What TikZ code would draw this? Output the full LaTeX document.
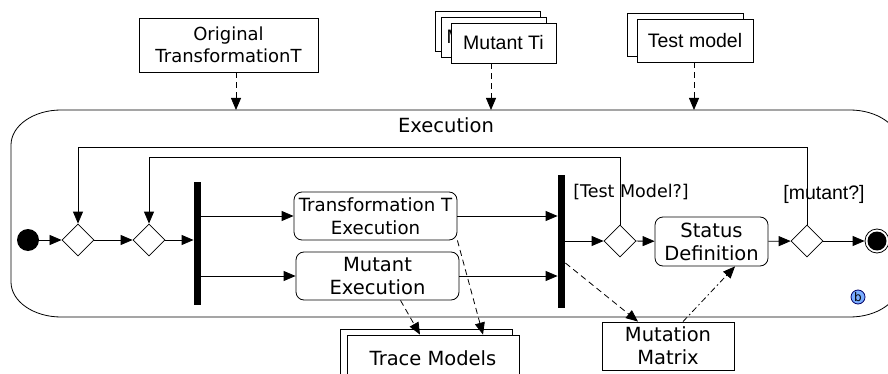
\documentclass[tikz,border=0pt]{standalone}
\usepackage{fontspec}
\setmainfont{DejaVu Sans}
\newfontfamily\arialfont{Liberation Sans}
\usetikzlibrary{arrows.meta,shapes.geometric,calc}

\tikzset{
	box/.style={draw,fill=white,inner sep=0pt,align=center},
	action/.style={box,rounded corners=8pt},
	decision/.style={diamond,draw,fill=white,minimum width=32pt,minimum height=32pt,inner sep=0pt},
	bar/.style={rectangle,fill=black,minimum width=7pt,inner sep=0pt},
	flow/.style={->},
	objflow/.style={->,dash pattern=on 6pt off 4pt},
	dotflow/.style={->,dash pattern=on 6pt off 3pt on 1.5pt off 3pt}
}

\begin{document}
\begin{tikzpicture}[x=1pt,y=-1pt,line width=0.8pt,
		>={Triangle[length=12pt,width=10pt]},
		font=\fontsize{19.5}{23}\selectfont]
	\useasboundingbox (0,0) rectangle (888,374);

	% execution frame
	\draw (61,110) -- (850,110) .. controls (877.6,110) and (900,125.7) .. (900,145)
		-- (900,282) .. controls (900,301.3) and (877.6,317) .. (850,317)
		-- (61,317) .. controls (33.4,317) and (11,301.3) .. (11,282)
		-- (11,145) .. controls (11,125.7) and (33.4,110) .. cycle;
	\node (exec) at (446,125) {Execution};
	\coordinate (in1) at (236,110);
	\coordinate (in2) at (491,110);
	\coordinate (in3) at (694,110);

	% inputs
	\node[box,minimum width=179pt,minimum height=54pt,font=\fontsize{18}{22}\selectfont] (orig) at (228.5,45) {Original\\TransformationT};
	\begin{scope}[every node/.style={box,minimum width=105pt,minimum height=40pt,font=\arialfont\fontsize{19.5}{22}\selectfont}]
		\node (mt1) at (488,31) {};
		\node[text width=95pt,align=left] (mt2) at (494,37) {Mutant Ti};
		\node (mt3) at (503.5,43) {Mutant Ti};
	\end{scope}
	\begin{scope}[every node/.style={box,minimum width=116pt,minimum height=43pt,font=\arialfont\fontsize{19.5}{22}\selectfont}]
		\node (tm1) at (685.5,34.5) {};
		\node (tm2) at (695,40.5) {Test model};
	\end{scope}

	% activity nodes
	\node[circle,fill=black,minimum size=22pt,inner sep=0pt] (start) at (28,240) {};
	\node[decision] (d1) at (78,240) {};
	\node[decision] (d2) at (149,240) {};
	\node[bar,minimum height=123pt] (fork) at (197.5,243.5) {};
	\node[action,minimum width=163pt,minimum height=48pt,font=\fontsize{18.2}{23}\selectfont] (tte) at (375.5,216) {Transformation T\\Execution};
	\node[action,minimum width=163pt,minimum height=48pt] (me) at (377.5,276) {Mutant\\Execution};
	\node[bar,minimum height=133pt] (join) at (561.5,241.5) {};
	\node[decision] (d3) at (620,241) {};
	\node[action,minimum width=113pt,minimum height=49pt] (status) at (711.5,241.5) {Status\\Definition};
	\node[decision] (d4) at (807,241) {};
	\node[circle,draw,minimum size=24pt,inner sep=0pt] (end) at (877,241) {};
	\fill (end.center) circle (9.5);
	\node[circle,draw=blue!40!black,fill=blue!40!white!80!cyan,minimum size=14pt,inner sep=0pt,
		font=\fontsize{12}{12}\selectfont] (mark) at (858,297) {b};

	% guards
	\node[font=\fontsize{17.5}{20}\selectfont] (g1) at (631,192) {[Test Model?]};
	\node[font=\arialfont\fontsize{19.5}{22}\selectfont] (g2) at (824,194) {[mutant?]};

	% outputs
	\begin{scope}[every node/.style={box,minimum width=172pt,minimum height=46pt}]
		\node (tr1) at (426.5,352) {};
		\node (tr2) at (433,358) {Trace Models};
	\end{scope}
	\node[box,minimum width=132pt,minimum height=48pt] (matrix) at (668,346) {Mutation\\Matrix};

	% control flow
	\coordinate (outer) at (0,147);
	\coordinate (inner) at (0,157);
	\draw[flow] (start) -- (d1);
	\draw[flow] (d1) -- (d2);
	\draw[flow] (d2) -- (d2 -| fork.west);
	\draw[flow] (fork.east |- tte.west) -- (tte.west);
	\draw[flow] (fork.east |- me.west) -- (me.west);
	\draw[flow] (tte.east) -- (tte.east -| join.west);
	\draw[flow] (me.east) -- (me.east -| join.west);
	\draw[flow] (join.east |- d3.west) -- (d3.west);
	\draw[flow] (d3) -- (status);
	\draw[flow] (status) -- (d4);
	\draw[flow] (d4) -- (end);
	\draw[flow] (d4.north) -- (d4 |- outer) -| (d1.north);
	\draw[flow] (d3.north) -- (d3 |- inner) -| (d2.north);

	% object flow
	\draw[objflow] (orig.south -| in1) -- (in1);
	\draw[objflow] (mt3.south -| in2) -- (in2);
	\draw[objflow] (tm2.south -| in3) -- (in3);
	\draw[objflow] ($(me.south)+(23,0)$) -- ($(tr2.north)+(-13,0)$);
	\draw[objflow] (tte.south east) -- ($(tr2.north)+(50,0)$);
	\draw[objflow] ($(join.east)+(0,21.5)$) -- ($(matrix.north)+(-30,0)$);
	\draw[dotflow] ($(matrix.north)+(15,0)$) -- ($(status.south)+(23.5,0)$);
\end{tikzpicture}
\end{document}
